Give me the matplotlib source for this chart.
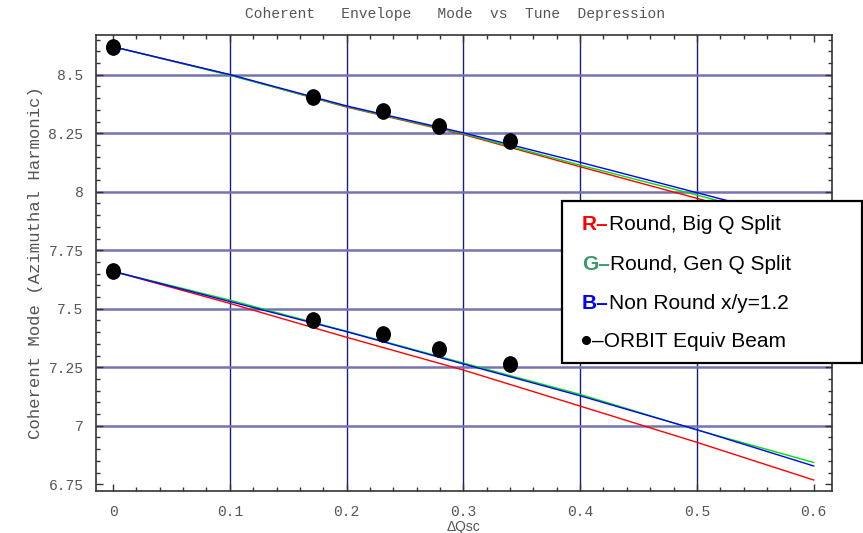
import matplotlib
matplotlib.use('Agg')
import matplotlib.pyplot as plt
from matplotlib.patches import Rectangle
from matplotlib.path import Path
from matplotlib.ticker import MultipleLocator
import numpy as np

# envelope model curves, upper and lower mode branches
dq_model = [0.0, 0.1, 0.2, 0.3, 0.4, 0.5, 0.6]
red_hi = [8.620, 8.500, 8.362, 8.245, 8.107, 7.972, 7.835]
green_hi = [8.620, 8.498, 8.364, 8.248, 8.114, 7.986, 7.852]
blue_hi = [8.620, 8.501, 8.367, 8.252, 8.126, 7.996, 7.866]
red_lo = [7.660, 7.523, 7.378, 7.238, 7.084, 6.929, 6.768]
green_lo = [7.660, 7.537, 7.404, 7.268, 7.134, 6.982, 6.843]
blue_lo = [7.660, 7.531, 7.402, 7.264, 7.128, 6.983, 6.828]

# ORBIT simulation points
dq_orbit = [0.0, 0.171, 0.231, 0.279, 0.340]
orbit_hi = [8.618, 8.406, 8.346, 8.281, 8.217]
orbit_lo = [7.661, 7.452, 7.392, 7.326, 7.262]

legend_rows = [
    ('R\u2013', 'Round, Big Q Split', '#ff0000'),
    ('G\u2013', 'Round, Gen Q Split', '#3a9a6a'),
    ('B\u2013', 'Non Round x/y=1.2', '#0000ff'),
]
orbit_label = '\u2013ORBIT Equiv Beam'

mono = 'Liberation Mono'
sans = 'Liberation Sans'
grey = '#555555'

fig = plt.figure(figsize=(8.63, 5.33), dpi=100)
ax = fig.add_axes([0.1112, 0.0788, 0.8529, 0.8555])

for v in [0.1, 0.2, 0.3, 0.4, 0.5]:
    ax.axvline(v, color='#1c1c7c', lw=1.0, zorder=1)
for h in [7.0, 7.25, 7.5, 7.75, 8.0, 8.25, 8.5]:
    ax.axhline(h, color='#7474b4', lw=1.8, zorder=1)

for hi, lo, c in [(red_hi, red_lo, '#ff0000'),
                  (green_hi, green_lo, '#00e000'),
                  (blue_hi, blue_lo, '#0000ff')]:
    ax.plot(dq_model, hi, color=c, lw=1.0, zorder=2)
    ax.plot(dq_model, lo, color=c, lw=1.0, zorder=2)

# slightly tall ellipse marker
circ = Path.unit_circle()
oval = Path(circ.vertices * np.array([0.89, 1.0]), circ.codes)
ax.plot(dq_orbit, orbit_hi, ls='', marker=oval, ms=11, color='black', zorder=3)
ax.plot(dq_orbit, orbit_lo, ls='', marker=oval, ms=11, color='black', zorder=3)

ax.set_xlim(-0.0146, 0.6157)
ax.set_ylim(6.721, 8.670)
ax.set_xticks([0, 0.1, 0.2, 0.3, 0.4, 0.5, 0.6])
ax.set_xticklabels(['0', '0.1', '0.2', '0.3', '0.4', '0.5', '0.6'])
ax.set_yticks([6.75, 7, 7.25, 7.5, 7.75, 8, 8.25, 8.5])
ax.set_yticklabels(['6.75', '7', '7.25', '7.5', '7.75', '8', '8.25', '8.5'])
ax.xaxis.set_minor_locator(MultipleLocator(0.02))
ax.yaxis.set_minor_locator(MultipleLocator(0.05))
ax.tick_params(which='both', direction='in', top=True, right=True,
               color='#333333', width=1.0)
ax.tick_params(which='major', length=5, labelsize=10.5, labelcolor=grey)
ax.tick_params(which='minor', length=3)
ax.tick_params(axis='x', which='major', pad=10)
ax.tick_params(axis='y', which='major', pad=9)
for lab in ax.get_xticklabels() + ax.get_yticklabels():
    lab.set_fontfamily(mono)
for sp in ax.spines.values():
    sp.set_color('#333333')
    sp.set_linewidth(1.2)

ax.set_title('Coherent   Envelope   Mode  vs  Tune  Depression',
             fontfamily=mono, fontsize=10.5, color=grey, pad=12, x=0.488)
ax.set_ylabel('Coherent Mode (Azimuthal Harmonic)', fontfamily=mono,
              fontsize=12.5, color=grey, labelpad=4)
ax.set_xlabel('\u0394Qsc', fontfamily=sans, fontsize=10,
              color=grey, labelpad=1)

# legend box drawn by hand so the prefixes can be coloured
box = Rectangle((0.6512, 0.3189), 0.3476, 0.304, transform=fig.transFigure,
                facecolor='white', edgecolor='black', lw=1.6, zorder=10,
                clip_on=False)
ax.add_patch(box)
row_y = [0.5685, 0.4935, 0.4205, 0.3485]
for (pre, rest, col), y in zip(legend_rows, row_y):
    t = ax.text(0.6744, y, pre, transform=fig.transFigure, color=col,
                fontweight='bold', fontsize=15, fontfamily=sans,
                va='baseline', zorder=11, clip_on=False)
    ax.annotate(rest, xy=(1, 0), xycoords=t, va='bottom', ha='left',
                fontsize=15, fontfamily=sans, color='black',
                annotation_clip=False, zorder=11)

ax.plot([0.6795], [row_y[3] + 0.0135], transform=fig.transFigure, ls='',
        marker='o', ms=5.5, color='black', zorder=11, clip_on=False)
ax.text(0.6855, row_y[3], orbit_label, transform=fig.transFigure,
        fontsize=15, fontfamily=sans, color='black', va='baseline',
        zorder=11, clip_on=False)

fig.savefig('out.png', dpi=100)
